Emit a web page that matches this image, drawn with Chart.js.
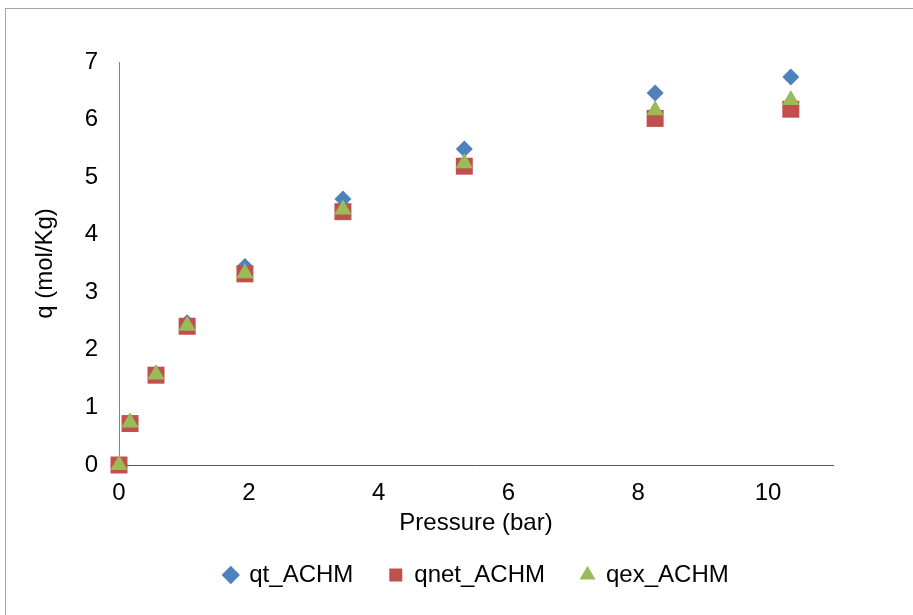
<!DOCTYPE html>
<html lang="en">
<head>
    <meta charset="UTF-8">
    <title>q vs Pressure</title>
    <script src="https://cdn.jsdelivr.net/npm/chart.js"></script>
    <style>
        body, html {
            margin: 0;
            padding: 0;
            background: #fff;
            overflow: hidden;
        }
        .wrap {
            position: relative;
            width: 913px;
            height: 615px;
        }
        .frame {
            position: absolute;
            left: 5px;
            top: 8px;
            width: 1000px;
            height: 1000px;
            border-left: 1px solid #a6a6a6;
            border-top: 1px solid #a6a6a6;
        }
        canvas {
            position: absolute;
            left: 0;
            top: 0;
        }
    </style>
</head>
<body>
    <div class="wrap">
        <div class="frame"></div>
        <canvas id="isoChart" width="913" height="615"></canvas>
    </div>
    <script>
        // values
        const pressure = [0, 0.17, 0.57, 1.05, 1.94, 3.45, 5.32, 8.26, 10.35];
        const qt = [0, 0.75, 1.59, 2.47, 3.45, 4.62, 5.49, 6.46, 6.74];
        const qnet = [0, 0.72, 1.56, 2.41, 3.32, 4.40, 5.19, 6.02, 6.18];
        const qex = [0, 0.74, 1.57, 2.42, 3.33, 4.44, 5.24, 6.16, 6.34];
        const xTicks = [0, 2, 4, 6, 8, 10];
        const seriesNames = ['qt_ACHM', 'qnet_ACHM', 'qex_ACHM'];

        const font = { family: 'Liberation Sans, Arial, sans-serif', size: 24 };

        function points(ys) {
            return pressure.map((x, i) => ({ x: x, y: ys[i] }));
        }

        // nudge the legend to the right, like the original
        const legendShift = {
            id: 'legendShift',
            afterLayout(chart) {
                chart.legend.left += 50;
                chart.legend.right += 50;
            }
        };

        const ctx = document.getElementById('isoChart').getContext('2d');

        new Chart(ctx, {
            type: 'scatter',
            data: {
                datasets: [
                    {
                        label: seriesNames[0],
                        data: points(qt),
                        order: 2,
                        clip: false,
                        pointStyle: 'rectRot',
                        pointRadius: 8.5,
                        backgroundColor: '#4F81BD',
                        borderColor: '#4F81BD',
                        borderWidth: 0
                    },
                    {
                        label: seriesNames[1],
                        data: points(qnet),
                        order: 1,
                        clip: false,
                        pointStyle: 'rect',
                        pointRadius: 12,
                        backgroundColor: '#C0504D',
                        borderColor: '#C0504D',
                        borderWidth: 0
                    },
                    {
                        label: seriesNames[2],
                        data: points(qex),
                        order: 0,
                        clip: false,
                        pointStyle: 'triangle',
                        pointRadius: 10,
                        backgroundColor: '#9BBB59',
                        borderColor: '#9BBB59',
                        borderWidth: 0
                    }
                ]
            },
            options: {
                responsive: false,
                animation: false,
                layout: {
                    padding: { left: 20, top: 62, right: 80, bottom: 18 }
                },
                plugins: {
                    tooltip: { enabled: false },
                    legend: {
                        position: 'bottom',
                        labels: {
                            usePointStyle: true,
                            boxWidth: 13,
                            boxHeight: 13,
                            padding: 36,
                            color: '#000',
                            font: font,
                            sort: (a, b) => a.datasetIndex - b.datasetIndex
                        }
                    }
                },
                scales: {
                    x: {
                        type: 'linear',
                        min: 0,
                        max: 11,
                        afterBuildTicks: s => { s.ticks = xTicks.map(v => ({ value: v })); },
                        afterFit: s => { s.height = 62; },
                        grid: { display: false, drawTicks: false },
                        border: { display: true, color: '#595959', width: 1 },
                        ticks: { color: '#000', font: font, padding: 13.5 },
                        title: {
                            display: true,
                            text: 'Pressure (bar)',
                            color: '#000',
                            font: font,
                            padding: { top: 0, bottom: -10.4 }
                        }
                    },
                    y: {
                        min: 0,
                        max: 7,
                        afterFit: s => { s.width = 99; },
                        grid: { display: false, drawTicks: false },
                        border: { display: true, color: '#868686', width: 1 },
                        ticks: { stepSize: 1, color: '#000', font: font, padding: 21 },
                        title: {
                            display: true,
                            text: 'q (mol/Kg)',
                            color: '#000',
                            font: font,
                            padding: { top: 10.6, bottom: 0 }
                        }
                    }
                }
            },
            plugins: [legendShift]
        });
    </script>
</body>
</html>
